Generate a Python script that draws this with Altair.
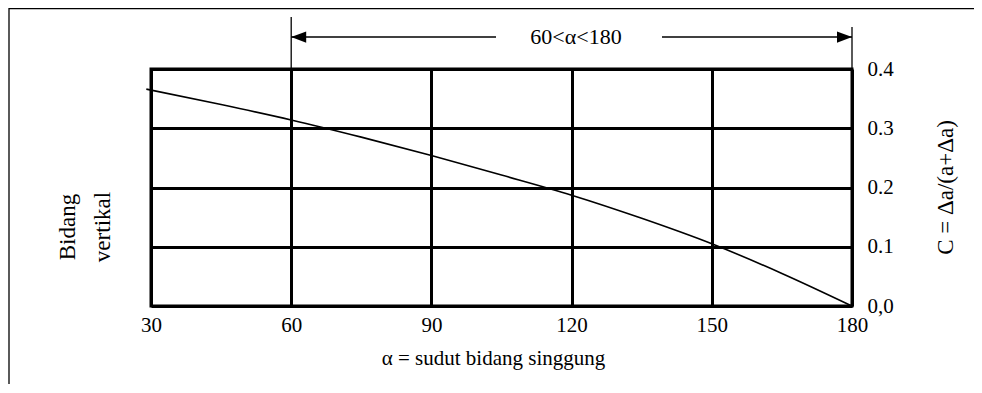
import altair as alt
import pandas as pd

# ---- data ----
alpha = [29, 45, 60, 75, 90, 105, 120, 135, 150, 165, 180]
c_vals = [0.366, 0.340, 0.314, 0.285, 0.254, 0.221, 0.187, 0.148, 0.105, 0.055, 0.0]
x_ticks = [30, 60, 90, 120, 150, 180]
y_ticks = [0.0, 0.1, 0.2, 0.3, 0.4]
range_label = ["60<α<180"]
range_start = [60]
range_end = [180]
side_line1 = ["Bidang"]
side_line2 = ["vertikal"]
x_title = "α = sudut bidang singgung"
y_title = "C = Δa/(a+Δa)"

FONT = "Liberation Serif"
W, H = 701, 237

curve_df = pd.DataFrame({"alpha": alpha, "C": c_vals})
xs = alt.Scale(domain=[30, 180], nice=False, zero=False)
ys = alt.Scale(domain=[0, 0.4], nice=False)

curve = alt.Chart(curve_df).mark_line(
    color="black", strokeWidth=1.6, interpolate="monotone"
).encode(
    x=alt.X("alpha:Q", scale=xs, axis=alt.Axis(
        values=x_ticks, title=x_title, grid=True, gridColor="black",
        gridWidth=3, gridOpacity=1, domain=False, ticks=False,
        labelFont=FONT, labelFontSize=21, labelColor="black", labelPadding=8,
        labelFlush=False, labelOverlap=False,
        titleFont=FONT, titleFontSize=21, titleFontWeight="normal",
        titleColor="black", titleX=342, titleY=52, titleBaseline="middle",
        titleAlign="center")),
    y=alt.Y("C:Q", scale=ys, axis=alt.Axis(
        orient="right", values=y_ticks,
        labelExpr="datum.value == 0 ? '0,0' : format(datum.value, '.1f')",
        grid=True, gridColor="black", gridWidth=3, gridOpacity=1,
        domain=False, ticks=False, labelFont=FONT, labelFontSize=21,
        labelColor="black", labelPadding=15, labelAlign="left",
        labelBaseline="middle", labelFlush=False, labelOverlap=False,
        title=y_title, titleFont=FONT, titleFontSize=23,
        titleFontWeight="normal", titleColor="black", titleAngle=270,
        titleX=93, titleY=118, titleAlign="center", titleBaseline="middle")),
)

start_df = pd.DataFrame({"x": range_start})
end_df = pd.DataFrame({"x": range_end})

left_tick = alt.Chart(start_df).mark_rule(color="black", strokeWidth=1.3).encode(
    x=alt.X("x:Q", scale=xs), y=alt.value(-52), y2=alt.value(0))
right_tick = alt.Chart(end_df).mark_rule(color="black", strokeWidth=1.3).encode(
    x=alt.X("x:Q", scale=xs), y=alt.value(-42), y2=alt.value(0))

left_seg = alt.Chart(start_df).mark_rule(color="black", strokeWidth=1.3).encode(
    x=alt.X("x:Q", scale=xs), x2=alt.value(345), y=alt.value(-32))
right_seg = alt.Chart(end_df).mark_rule(color="black", strokeWidth=1.3).encode(
    x=alt.X("x:Q", scale=xs), x2=alt.value(511), y=alt.value(-32))

left_head = alt.Chart(start_df).mark_point(
    shape="M0,0L2,-0.75L2,0.75Z", filled=True, color="black", opacity=1,
    size=225, strokeWidth=0
).encode(x=alt.X("x:Q", scale=xs), y=alt.value(-32))
right_head = alt.Chart(end_df).mark_point(
    shape="M0,0L-2,-0.75L-2,0.75Z", filled=True, color="black", opacity=1,
    size=225, strokeWidth=0
).encode(x=alt.X("x:Q", scale=xs), y=alt.value(-32))

range_text = alt.Chart(pd.DataFrame({"t": range_label})).mark_text(
    font=FONT, fontSize=22, color="black", align="center", baseline="middle"
).encode(text="t:N", x=alt.value(425), y=alt.value(-32))

side1 = alt.Chart(pd.DataFrame({"t": side_line1})).mark_text(
    font=FONT, fontSize=23, color="black", align="center", baseline="middle",
    angle=270
).encode(text="t:N", x=alt.value(-83), y=alt.value(158))
side2 = alt.Chart(pd.DataFrame({"t": side_line2})).mark_text(
    font=FONT, fontSize=23, color="black", align="center", baseline="middle",
    angle=270
).encode(text="t:N", x=alt.value(-48), y=alt.value(158))

frame_top = alt.Chart(start_df).mark_rule(color="black", strokeWidth=1.3).encode(
    x=alt.value(-142), x2=alt.value(840), y=alt.value(-60.5))
frame_left = alt.Chart(start_df).mark_rule(color="black", strokeWidth=1.3).encode(
    x=alt.value(-142), y=alt.value(-61), y2=alt.value(330))

chart = alt.layer(
    curve, left_tick, right_tick, left_seg, right_seg, left_head, right_head,
    range_text, side1, side2, frame_top, frame_left
).properties(
    width=W, height=H, autosize="none",
    padding={"left": 143, "top": 61, "right": 122, "bottom": 78},
    background="white"
).configure_view(stroke="black", strokeWidth=3)

chart.save("out.html", embed_options={"renderer": "svg", "actions": False})
